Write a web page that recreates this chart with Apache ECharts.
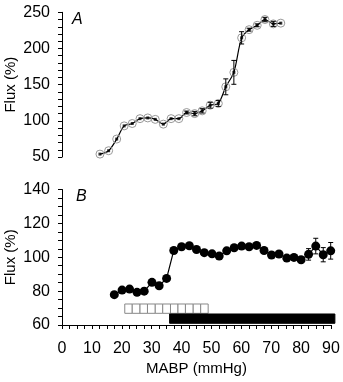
<!DOCTYPE html>
<html>
<head>
<meta charset="utf-8">
<script src="https://cdn.jsdelivr.net/npm/echarts@6/dist/echarts.min.js"></script>
<style>
  html, body { margin: 0; padding: 0; background: #fff; }
  #chart { width: 343px; height: 382px; }
</style>
</head>
<body>
<div id="chart"></div>
<script>
// panel A
var mabpA = [12.7, 15.6, 18.3, 20.8, 23.5, 26.1, 28.7, 31.2, 33.9, 36.5, 39.1, 41.7, 44.4, 46.9, 49.6, 52.3, 54.8, 57.5, 60.1, 62.6, 65.3, 67.9, 70.7, 73.2]
var fluxA = [54, 58.7, 74.8, 93, 96.3, 103, 104, 102, 95.4, 103, 103, 111.5, 110, 113.8, 121.6, 124, 147, 167, 214.7, 226, 232, 240, 234, 235]
var errA  = [0, 0, 0, 0, 0, 0, 0, 0, 0, 0, 0, 2, 3, 3, 4, 4, 11, 16.5, 8.5, 2, 2, 3, 3.5, 0]

// panel B
var mabpB = [17.5, 20.1, 22.6, 25.1, 27.5, 30.1, 32.5, 35, 37.4, 40, 42.6, 45, 47.6, 50.2, 52.6, 55.1, 57.6, 60.1, 62.6, 65.1, 67.6, 70.1, 72.6, 75.2, 77.6, 80, 82.5, 84.9, 87.4, 89.9]
var fluxB = [77.9, 80.6, 81.2, 79.3, 80, 85.2, 83.2, 87.5, 104, 106.2, 106.8, 104.6, 102.7, 102, 100.7, 103.8, 105.6, 106.6, 106.2, 107, 104, 101.3, 101.9, 99.5, 99.9, 98.5, 101.7, 106.6, 101.5, 103.8]
var errB  = [0, 0, 0, 0, 0, 0, 0, 0, 0, 0, 0, 0, 0, 0, 0, 0, 0, 0, 0, 0, 0, 0, 0, 0, 0, 1.5, 3.4, 4.6, 4.2, 4.9]

// open squares [start, end, low, high] and the black bar
var openBoxes = [
  [21.0, 23.5, 66.9, 72.4], [23.5, 26.1, 66.9, 72.4], [26.1, 28.6, 66.9, 72.4],
  [28.6, 31.2, 66.9, 72.4], [31.2, 33.7, 66.9, 72.4], [33.7, 36.3, 66.9, 72.4],
  [36.3, 38.8, 66.9, 72.4], [38.8, 41.3, 66.9, 72.4], [41.3, 43.9, 66.9, 72.4],
  [43.9, 46.4, 66.9, 72.4], [46.4, 48.9, 66.9, 72.4]
]
var blackBar = [[36.0, 91.3, 61.0, 66.5]]

var font = 'Liberation Sans, Arial, sans-serif'

function pairs(xs, ys) {
  var out = []
  for (var i = 0; i < xs.length; i++) out.push([xs[i], ys[i]])
  return out
}
function errData(xs, ys, es) {
  var out = []
  for (var i = 0; i < xs.length; i++) {
    if (es[i] > 0) out.push([xs[i], ys[i] - es[i], ys[i] + es[i]])
  }
  return out
}

function renderErr(params, api) {
  var a = api.coord([api.value(0), api.value(2)])
  var b = api.coord([api.value(0), api.value(1)])
  var st = { stroke: '#000', lineWidth: 1 }
  return {
    type: 'group',
    children: [
      { type: 'line', shape: { x1: a[0], y1: a[1], x2: b[0], y2: b[1] }, style: st },
      { type: 'line', shape: { x1: a[0] - 2.5, y1: a[1], x2: a[0] + 2.5, y2: a[1] }, style: st },
      { type: 'line', shape: { x1: b[0] - 2.5, y1: b[1], x2: b[0] + 2.5, y2: b[1] }, style: st }
    ]
  }
}
function boxRenderer(fill, stroke) {
  return function (params, api) {
    var p1 = api.coord([api.value(0), api.value(3)])
    var p2 = api.coord([api.value(1), api.value(2)])
    return {
      type: 'rect',
      shape: { x: p1[0], y: p1[1], width: p2[0] - p1[0], height: p2[1] - p1[1] },
      style: { fill: fill, stroke: stroke, lineWidth: 1 }
    }
  }
}

var chart = echarts.init(document.getElementById('chart'))

var axisLine = { lineStyle: { color: '#000', width: 1 } }
var tick = { show: true, inside: false, length: 4, lineStyle: { color: '#000' } }
var lbl = { color: '#000', fontSize: 16, fontFamily: font }
var nameStyle = { color: '#000', fontSize: 15, fontFamily: font }

var option = {
  animation: false,
  backgroundColor: '#fff',
  grid: [
    { left: 62, top: 12.3, width: 269, height: 144.7, containLabel: false, outerBoundsMode: 'none' },
    { left: 62, top: 189.5, width: 269, height: 135.5, containLabel: false, outerBoundsMode: 'none' }
  ],
  xAxis: [
    { gridIndex: 0, type: 'value', min: 0, max: 90, interval: 10, show: false },
    {
      gridIndex: 1, type: 'value', min: 0, max: 90, interval: 10,
      name: 'MABP (mmHg)', nameLocation: 'middle', nameGap: 36, nameMoveOverlap: false,
      nameTextStyle: nameStyle,
      axisLine: axisLine, axisTick: tick,
      minorTick: { show: true, splitNumber: 4, length: 4, lineStyle: { color: '#000' } },
      axisLabel: Object.assign({ margin: 16 }, lbl),
      splitLine: { show: false }
    }
  ],
  yAxis: [
    {
      gridIndex: 0, type: 'value', min: 50, max: 250, interval: 50,
      name: 'Flux (%)', nameLocation: 'middle', nameGap: 44, nameMoveOverlap: false,
      nameTextStyle: nameStyle,
      axisLine: { show: true, lineStyle: { color: '#000', width: 1 } }, axisTick: tick,
      minorTick: { show: true, splitNumber: 5, length: 4, lineStyle: { color: '#000' } },
      axisLabel: Object.assign({ margin: 12 }, lbl),
      splitLine: { show: false }
    },
    {
      gridIndex: 1, type: 'value', min: 60, max: 140, interval: 20,
      name: 'Flux (%)', nameLocation: 'middle', nameGap: 44, nameMoveOverlap: false,
      nameTextStyle: nameStyle,
      axisLine: { show: true, lineStyle: { color: '#000', width: 1 } }, axisTick: tick,
      minorTick: { show: true, splitNumber: 4, length: 4, lineStyle: { color: '#000' } },
      axisLabel: Object.assign({ margin: 12 }, lbl),
      splitLine: { show: false }
    }
  ],
  graphic: [
    { type: 'text', left: 72, top: 12, style: { text: 'A', fill: '#000', font: 'italic 16px ' + font } },
    { type: 'text', left: 76, top: 189, style: { text: 'B', fill: '#000', font: 'italic 16px ' + font } }
  ],
  series: [
    {
      type: 'line', xAxisIndex: 0, yAxisIndex: 0, data: pairs(mabpA, fluxA),
      smooth: 0.3, lineStyle: { color: '#000', width: 1.2 },
      symbol: 'circle', symbolSize: 8,
      itemStyle: { color: 'rgba(255,255,255,0)', borderColor: '#999', borderWidth: 1 }, z: 2
    },
    {
      type: 'scatter', xAxisIndex: 0, yAxisIndex: 0, data: pairs(mabpA, fluxA),
      symbol: 'rect', symbolSize: 3, itemStyle: { color: '#000' }, z: 3
    },
    {
      type: 'custom', xAxisIndex: 0, yAxisIndex: 0, data: errData(mabpA, fluxA, errA),
      renderItem: renderErr, z: 4
    },
    {
      type: 'custom', xAxisIndex: 1, yAxisIndex: 1, data: openBoxes,
      renderItem: boxRenderer('#fff', '#888'), z: 2
    },
    {
      type: 'custom', xAxisIndex: 1, yAxisIndex: 1, data: blackBar, clip: false,
      renderItem: boxRenderer('#000', '#000'), z: 2
    },
    {
      type: 'line', xAxisIndex: 1, yAxisIndex: 1, data: pairs(mabpB, fluxB),
      lineStyle: { color: '#000', width: 1.2 },
      symbol: 'circle', symbolSize: 9, itemStyle: { color: '#000' }, z: 3
    },
    {
      type: 'custom', xAxisIndex: 1, yAxisIndex: 1, data: errData(mabpB, fluxB, errB),
      renderItem: renderErr, z: 4
    }
  ]
}

chart.setOption(option)
</script>
</body>
</html>
